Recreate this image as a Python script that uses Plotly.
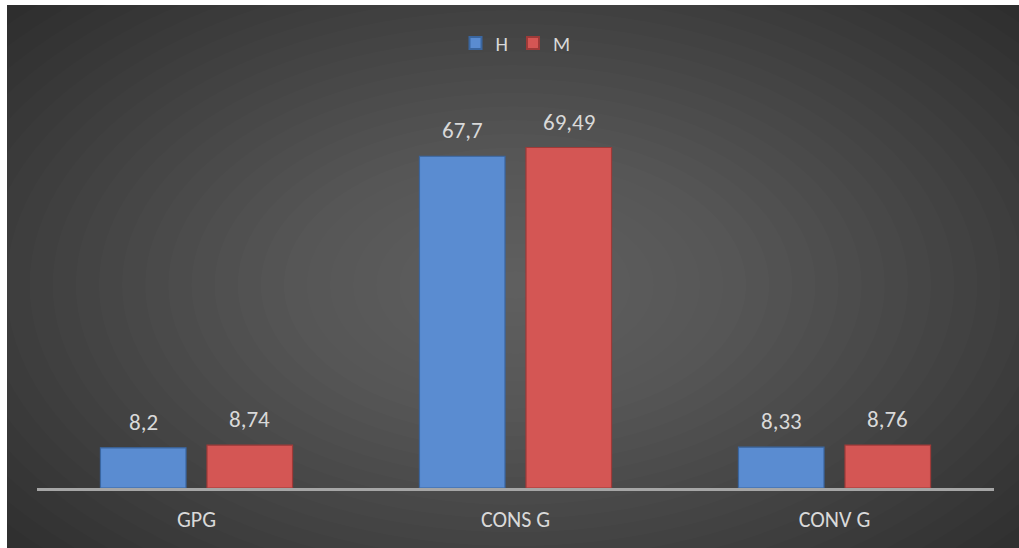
import plotly.graph_objects as go

categories = ["GPG", "CONS G", "CONV G"]
h_values = [8.2, 67.7, 8.33]
m_values = [8.74, 69.49, 8.76]
series_names = ["H", "M"]


def fmt(v):
    s = ("%.2f" % v).rstrip("0").rstrip(".")
    return s.replace(".", ",")


W, H = 1019, 548
ML, MR, MT, MB = 37, 25, 96, 60
PW = W - ML - MR
PH = H - MT - MB


def px(x):
    return (x - ML) / PW


def py(y):
    return (H - MB - y) / PH


FONT = "Carlito, Lato, 'Open Sans', sans-serif"
TXT = "#d9d9d9"
BARGAP = 0.332
GROUPGAP = 0.197
SLOT = PW / len(categories) * (1 - BARGAP) / 2

fig = go.Figure()
fig.add_trace(go.Bar(
    name=series_names[0], x=categories, y=h_values,
    marker=dict(color="#5a8cd1", line=dict(color="#3a66a0", width=1.2)),
))
fig.add_trace(go.Bar(
    name=series_names[1], x=categories, y=m_values,
    marker=dict(color="#d45654", line=dict(color="#9e3a38", width=1.2)),
))

annotations = []
for vals, sgn in ((h_values, -1), (m_values, 1)):
    for c, v in zip(categories, vals):
        annotations.append(dict(
            x=c, y=v, xref="x", yref="y", text=fmt(v), showarrow=False,
            xshift=sgn * SLOT / 2, yshift=10, yanchor="bottom",
            font=dict(size=23, color=TXT, family=FONT),
        ))

shapes = []
# radial gradient approximation
cx, cy = px(515), py(285)
n = 32
for i in range(n):
    f = 1 - i / n
    rx = 740 * f
    ry = 440 * f
    shapes.append(dict(
        type="circle", xref="paper", yref="paper", layer="below",
        x0=cx - rx / PW, x1=cx + rx / PW, y0=cy - ry / PH, y1=cy + ry / PH,
        fillcolor="rgba(255,255,255,0.0115)", line=dict(width=0),
    ))
# white margins top/left
shapes.append(dict(type="rect", xref="paper", yref="paper", layer="above",
                   x0=px(0), x1=px(7), y0=py(H), y1=py(0),
                   fillcolor="white", line=dict(width=0)))
shapes.append(dict(type="rect", xref="paper", yref="paper", layer="above",
                   x0=px(0), x1=px(W), y0=py(5), y1=py(0),
                   fillcolor="white", line=dict(width=0)))

fig.update_layout(
    width=W, height=H,
    margin=dict(l=ML, r=MR, t=MT, b=MB, pad=0),
    paper_bgcolor="#282828",
    plot_bgcolor="rgba(0,0,0,0)",
    barmode="group", bargap=BARGAP, bargroupgap=GROUPGAP,
    font=dict(family=FONT, color=TXT),
    showlegend=True,
    legend=dict(orientation="h", x=0.5, xanchor="center", y=py(43), yanchor="middle",
                font=dict(size=20, color=TXT, family=FONT),
                itemwidth=30, itemsizing="constant", bgcolor="rgba(0,0,0,0)"),
    xaxis=dict(showline=True, linecolor="#a6a6a6", linewidth=2.5,
               ticks="outside", ticklen=10, tickcolor="rgba(0,0,0,0)",
               tickfont=dict(size=22, color=TXT, family=FONT),
               showgrid=False, zeroline=False, fixedrange=True),
    yaxis=dict(range=[0, 80], visible=False, showgrid=False, zeroline=False),
    shapes=shapes,
    annotations=annotations,
)

fig.write_html("out.html")
